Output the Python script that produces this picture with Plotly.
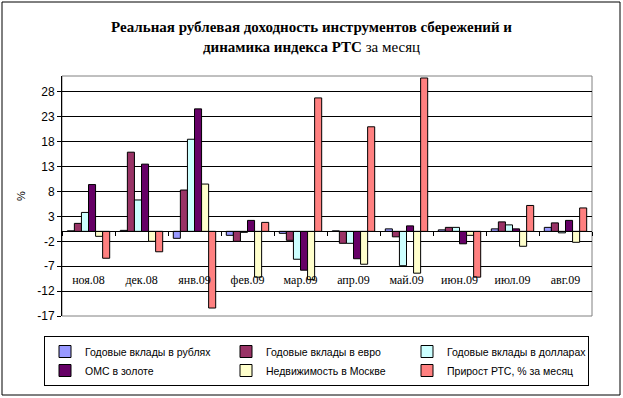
import plotly.graph_objects as go

categories = ['ноя.08', 'дек.08', 'янв.09', 'фев.09', 'мар.09',
              'апр.09', 'май.09', 'июн.09', 'июл.09', 'авг.09']

series_names = ['Годовые вклады в рублях', 'Годовые вклады в евро',
                'Годовые вклады в долларах', 'ОМС в золоте',
                'Недвижимость в Москве', 'Прирост РТС, % за месяц']

rub = [0.1, 0.2, -1.4, -0.8, -0.4, 0.1, 0.5, 0.3, 0.5, 0.8]
eur = [1.6, 15.9, 8.3, -2.0, -1.8, -2.4, -1.1, 0.8, 1.9, 1.7]
usd = [3.8, 6.3, 18.5, -0.2, -5.6, -2.4, -6.9, 0.8, 1.3, -0.3]
gold = [9.4, 13.5, 24.6, 2.2, -7.8, -5.5, 1.1, -2.5, 0.5, 2.2]
realty = [-1.0, -2.0, 9.5, -9.2, -9.7, -6.6, -8.4, -0.8, -3.0, -2.2]
rts = [-5.4, -4.1, -15.4, 1.8, 26.8, 21.0, 30.8, -9.2, 5.2, 4.7]

y_ticks = [28, 23, 18, 13, 8, 3, -2, -7, -12, -17]

colors = ['#9999FF', '#993366', '#CCFFFF', '#660066', '#FFFFCC', '#FF8080']
data = [rub, eur, usd, gold, realty, rts]

Y_MIN, Y_MAX = -17, 31.2

fig = go.Figure()
for name, vals, col in zip(series_names, data, colors):
    fig.add_trace(go.Bar(x=categories, y=vals, name=name,
                         marker=dict(color=col, line=dict(color='black', width=1))))

fig.update_layout(
    width=623, height=398,
    margin=dict(l=62, r=31, t=76, b=82, autoexpand=False),
    paper_bgcolor='white', plot_bgcolor='white',
    barmode='group', bargap=0.2, bargroupgap=0,
    title=dict(
        text='<b>Реальная рублевая доходность инструментов сбережений и</b><br>'
             '<b>динамика индекса РТС</b> за месяц',
        font=dict(family='Liberation Serif', size=15, color='black'),
        x=0.5, xref='container', xanchor='center',
        y=1 - 32 / 398, yref='container', yanchor='middle'),
    font=dict(family='Liberation Sans', size=11, color='black'),
    showlegend=True,
    legend=dict(orientation='h', x=(44 - 62) / 530, y=(316 - 336) / 240,
                xanchor='left', yanchor='top',
                bgcolor='white', bordercolor='black', borderwidth=1,
                entrywidth=136, entrywidthmode='pixels',
                itemwidth=30,
                font=dict(family='Liberation Sans', size=10.5, color='black'),
                traceorder='normal'),
)

fig.update_yaxes(
    range=[Y_MIN, Y_MAX], tickmode='array', tickvals=y_ticks,
    ticktext=[str(v) for v in y_ticks],
    showgrid=True, gridcolor='black', gridwidth=1,
    zeroline=False, showline=True, linecolor='black', linewidth=1,
    ticks='outside', ticklen=4, tickcolor='black',
    tickfont=dict(family='Liberation Sans', size=12, color='black'),
    title=dict(text='%', standoff=9,
               font=dict(family='Liberation Sans', size=11, color='black')),
)

fig.update_xaxes(
    type='category', anchor='free', position=(0 - Y_MIN) / (Y_MAX - Y_MIN),
    showline=True, linecolor='black', linewidth=1,
    ticks='outside', ticklen=4, tickcolor='black', tickson='boundaries',
    showgrid=False, layer='above traces',
    ticklabelstandoff=37,
    tickfont=dict(family='Liberation Serif', size=12, color='black'),
)

# plot-area border (gray) and outer chart frame
fig.add_shape(type='rect', xref='paper', yref='paper', x0=0, x1=1, y0=0, y1=1,
              line=dict(color='#808080', width=1), layer='below')
fig.add_shape(type='rect', xref='paper', yref='paper',
              x0=(2 - 62) / 530, x1=(620 - 62) / 530,
              y0=(316 - 395) / 240, y1=(316 - 2) / 240,
              line=dict(color='black', width=1))

fig.write_html('out.html',
               config={'displayModeBar': False},
               post_script="document.body.style.margin='0';"
                           "document.body.style.overflow='hidden';")
